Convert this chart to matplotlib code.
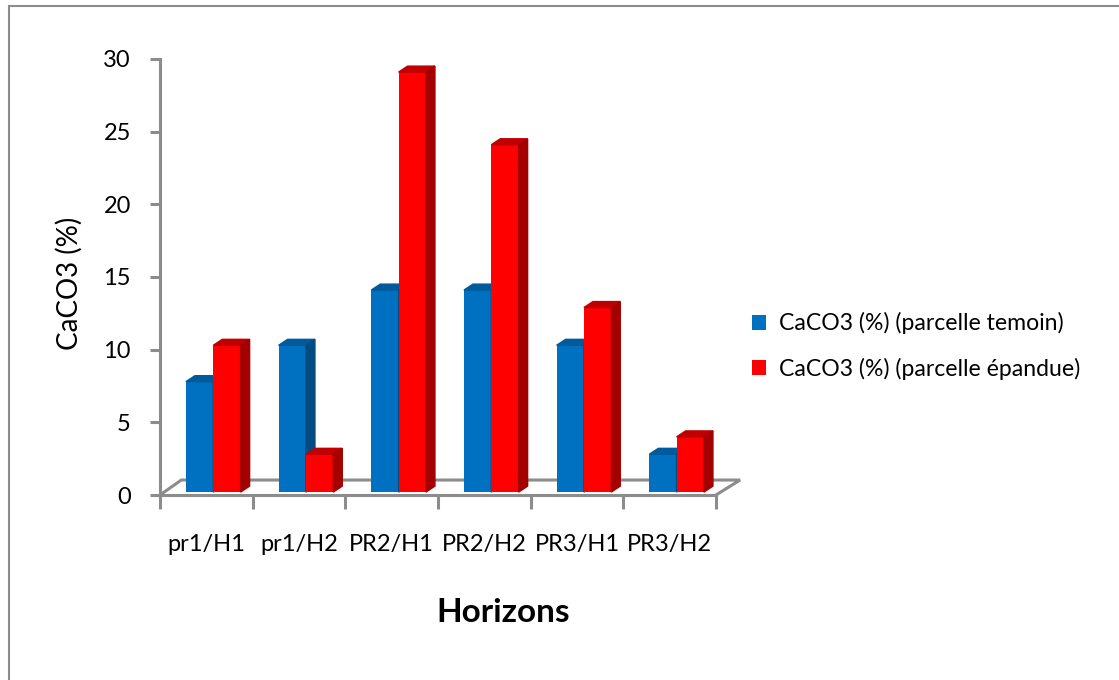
import matplotlib.pyplot as plt
from matplotlib.patches import Polygon, Rectangle

# data
horizons = ['pr1/H1', 'pr1/H2', 'PR2/H1', 'PR2/H2', 'PR3/H1', 'PR3/H2']
temoin = [7.6, 10.1, 13.9, 13.9, 10.1, 2.6]
epandue = [10.1, 2.6, 28.9, 23.9, 12.7, 3.8]
series_names = ['CaCO3 (%) (parcelle temoin)', 'CaCO3 (%) (parcelle épandue)']

plt.rcParams['font.family'] = ['Lato', 'DejaVu Sans']
grey = '#8c8c8c'

fig = plt.figure(figsize=(11.19, 6.8), dpi=100)
ax = fig.add_axes([160 / 1119, 1 - 495 / 680, 556 / 1119, 436 / 680])
ax.set_xlim(0, 6)
ax.set_ylim(0, 30)

# fake 3D look (Excel style)
base = 0.2      # bars stand a little behind the front edge of the floor
width = 0.295
dx, dy = 0.097, 0.41
styles = [
    # front, top, side
    ('#0070c0', '#005a9c', '#004b82'),
    ('#ff0000', '#c00000', '#a50000'),
]
offsets = [0.28, 0.575]

# floor
ax.plot([0, 0.23, 6.26, 6], [0, 1.03, 1.03, 0], color=grey, lw=2.2,
        clip_on=False, zorder=1, solid_joinstyle='miter')

containers = []
for k, vals in enumerate([temoin, epandue]):
    front, top, side = styles[k]
    xs = [j + offsets[k] for j in range(len(vals))]
    bars = ax.bar(xs, vals, width=width, bottom=base, align='edge',
                  color=front, zorder=2 + k, label=series_names[k])
    containers.append(bars)
    for x0, v in zip(xs, vals):
        h = base + v
        ax.add_patch(Polygon([(x0, h), (x0 + width, h), (x0 + width + dx, h + dy), (x0 + dx, h + dy)],
                             closed=True, color=top, zorder=2 + k, clip_on=False))
        ax.add_patch(Polygon([(x0 + width, base), (x0 + width + dx, base + dy),
                              (x0 + width + dx, h + dy), (x0 + width, h)],
                             closed=True, color=side, zorder=2 + k, clip_on=False))

# axes lines and ticks
for s in ['top', 'right']:
    ax.spines[s].set_visible(False)
for s in ['left', 'bottom']:
    ax.spines[s].set_color(grey)
    ax.spines[s].set_linewidth(2.2)
ax.set_yticks(range(0, 31, 5))
ax.tick_params(axis='y', length=7, width=2.2, color=grey, pad=14, labelsize=17)
ax.set_xticks(range(0, 7))
ax.set_xticklabels([])
ax.tick_params(axis='x', which='major', length=10, width=2.2, color=grey)
ax.set_xticks([j + 0.5 for j in range(len(horizons))], minor=True)
ax.set_xticklabels(horizons, minor=True)
ax.tick_params(axis='x', which='minor', length=0, pad=28, labelsize=17)

fig.text(69 / 1119, 1 - 283 / 680, 'CaCO3 (%)', rotation=90, ha='center', va='center', fontsize=20)
fig.text(503 / 1119, 1 - 613 / 680, 'Horizons', ha='center', va='center', fontsize=24, fontweight='bold')

fig.legend(handles=containers, loc='center left', bbox_to_anchor=(743 / 1119, 1 - 346 / 680),
           frameon=False, fontsize=16.6, handlelength=0.6, handleheight=0.6,
           handletextpad=0.55, labelspacing=1.0, borderaxespad=0)

# chart area border
fig.add_artist(Rectangle((9 / 1119, -0.1), 1.2, 1.1 - 6 / 680, transform=fig.transFigure,
                         fill=False, edgecolor=grey, lw=1.5))

fig.savefig('out.png', dpi=100)
